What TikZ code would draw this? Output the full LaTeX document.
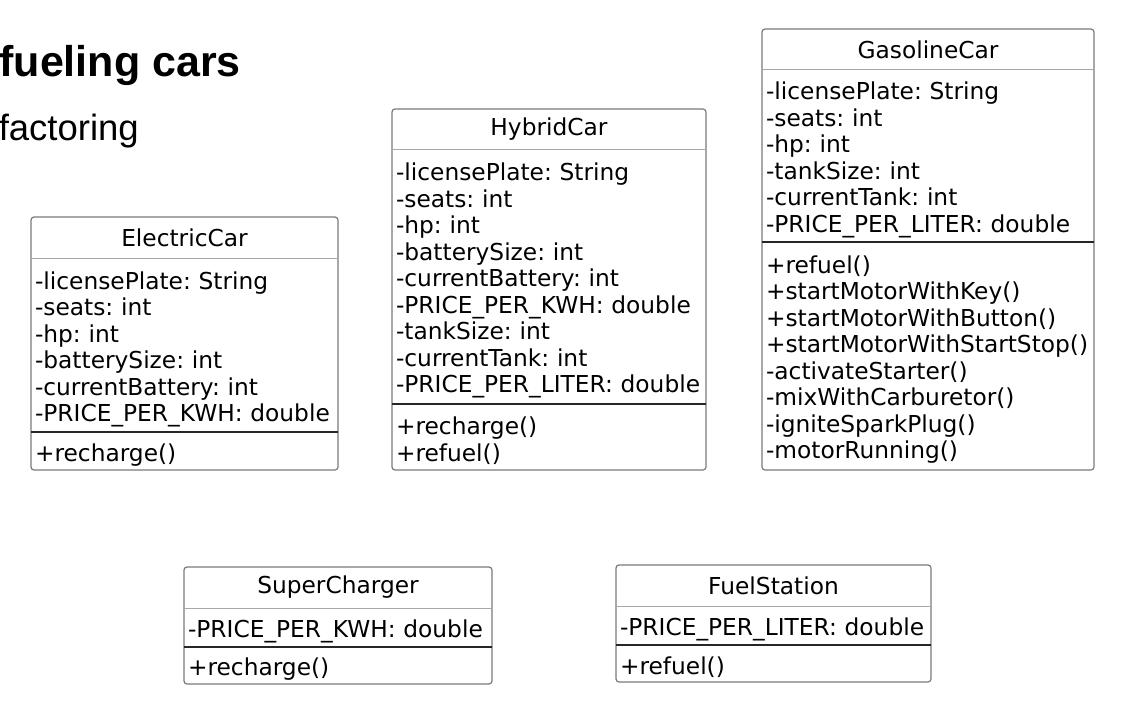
\documentclass[tikz,border=0pt]{standalone}
\usepackage{fontspec}
\setmainfont{Liberation Sans}
\newfontfamily\rowfont{DejaVu Sans}
\usetikzlibrary{positioning,fit}
\definecolor{framegray}{HTML}{7A7A7A}
\definecolor{headgray}{HTML}{A8A8A8}
\newcommand\rowsize{\rowfont\fontsize{23.3}{26.5}\selectfont\frenchspacing}

\begin{document}
\begin{tikzpicture}[x=1pt,y=-1pt,
    part/.style={inner xsep=4pt, inner ysep=0pt, outer sep=0pt, font=\rowsize, text width=#1},
    head/.style={part=#1, align=center},
    rows/.style={part=#1, align=left, execute at begin node={\rule{0pt}{25pt}}},
    frame/.style={draw=framegray, line width=1.2pt, rounded corners=3pt, inner sep=0pt, fit=#1},
    thinsep/.style={draw=headgray, line width=1pt},
    thicksep/.style={draw=black!85, line width=1.8pt}]
    \useasboundingbox (0,0) rectangle (1125,722);

    % titles
    \node[anchor=base east, inner sep=0pt, font=\fontsize{43}{50}\selectfont\bfseries] (title) at (241,77) {fueling cars};
    \node[anchor=base east, inner sep=0pt, font=\fontsize{36.5}{42}\selectfont] (subtitle) at (139,141) {factoring};

    % ElectricCar
    \node[head=299pt, minimum height=42pt, anchor=north] (ec) at (184.5,217) {ElectricCar};
    \node[rows=299pt, minimum height=173pt, below=0pt of ec] (ecA) {-licensePlate: String\\-seats: int\\-hp: int\\-batterySize: int\\-currentBattery: int\\-PRICE\_PER\_KWH: double};
    \node[rows=299pt, minimum height=38pt, below=0pt of ecA] (ecM) {+recharge()};
    \node[frame={(ec)(ecM)}] (ecBox) {};
    \draw[thinsep] (ecA.north west) -- (ecA.north east);
    \draw[thicksep] (ecM.north west) -- (ecM.north east);

    % HybridCar
    \node[head=306pt, minimum height=41pt, anchor=north] (hc) at (549,109) {HybridCar};
    \node[rows=306pt, minimum height=254pt, below=0pt of hc] (hcA) {-licensePlate: String\\-seats: int\\-hp: int\\-batterySize: int\\-currentBattery: int\\-PRICE\_PER\_KWH: double\\-tankSize: int\\-currentTank: int\\-PRICE\_PER\_LITER: double};
    \node[rows=306pt, minimum height=66pt, below=0pt of hcA] (hcM) {+recharge()\\+refuel()};
    \node[frame={(hc)(hcM)}] (hcBox) {};
    \draw[thinsep] (hcA.north west) -- (hcA.north east);
    \draw[thicksep] (hcM.north west) -- (hcM.north east);

    % GasolineCar
    \node[head=324pt, minimum height=41pt, anchor=north] (gc) at (928,29) {GasolineCar};
    \node[rows=324pt, minimum height=172pt, below=0pt of gc] (gcA) {-licensePlate: String\\-seats: int\\-hp: int\\-tankSize: int\\-currentTank: int\\-PRICE\_PER\_LITER: double};
    \node[rows=324pt, minimum height=228pt, below=0pt of gcA] (gcM) {+refuel()\\+startMotorWithKey()\\+startMotorWithButton()\\+startMotorWithStartStop()\\-activateStarter()\\-mixWithCarburetor()\\-igniteSparkPlug()\\-motorRunning()};
    \node[frame={(gc)(gcM)}] (gcBox) {};
    \draw[thinsep] (gcA.north west) -- (gcA.north east);
    \draw[thicksep] (gcM.north west) -- (gcM.north east);

    % SuperCharger
    \node[head=300pt, minimum height=41pt, anchor=north] (sc) at (338,567) {SuperCharger};
    \node[rows=300pt, minimum height=39pt, below=0pt of sc] (scA) {-PRICE\_PER\_KWH: double};
    \node[rows=300pt, minimum height=37pt, below=0pt of scA] (scM) {+recharge()};
    \node[frame={(sc)(scM)}] (scBox) {};
    \draw[thinsep] (scA.north west) -- (scA.north east);
    \draw[thicksep] (scM.north west) -- (scM.north east);

    % FuelStation
    \node[head=307pt, minimum height=41pt, anchor=north] (fs) at (773.5,565) {FuelStation};
    \node[rows=307pt, minimum height=39pt, below=0pt of fs] (fsA) {-PRICE\_PER\_LITER: double};
    \node[rows=307pt, minimum height=37pt, below=0pt of fsA] (fsM) {+refuel()};
    \node[frame={(fs)(fsM)}] (fsBox) {};
    \draw[thinsep] (fsA.north west) -- (fsA.north east);
    \draw[thicksep] (fsM.north west) -- (fsM.north east);
\end{tikzpicture}
\end{document}
